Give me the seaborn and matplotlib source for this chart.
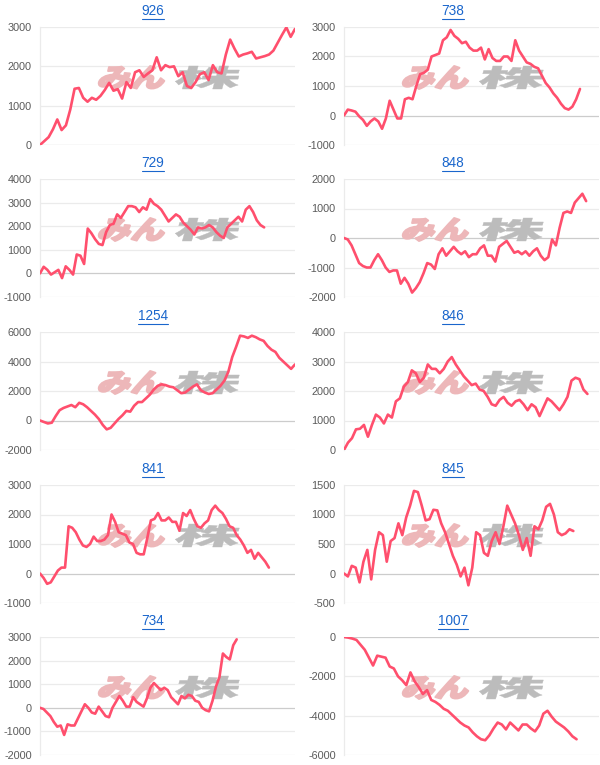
import numpy as np
import matplotlib
matplotlib.use('Agg')
import matplotlib.pyplot as plt
import seaborn as sns
from matplotlib.textpath import TextPath
from matplotlib.patches import PathPatch
from matplotlib.font_manager import FontProperties
from matplotlib.transforms import Affine2D
from matplotlib.lines import Line2D

# chart titles (stock codes)
labels = ['926', '738', '729', '848', '1254', '846', '841', '845', '734', '1007']

s926 = [0, 100, 200, 400, 650, 380, 500, 900, 1430, 1450, 1200, 1100, 1200, 1150, 1250,
        1400, 1580, 1380, 1420, 1180, 1600, 1450, 1850, 1900, 1730, 1820, 1900, 2230, 1900,
        2030, 1980, 2000, 1750, 1850, 1500, 1450, 1600, 1800, 1850, 1650, 2030, 1850, 1820,
        2300, 2680, 2450, 2250, 2300, 2330, 2370, 2200, 2230, 2260, 2300, 2400, 2600, 2800,
        2990, 2750, 2950]
s738 = [0, 200, 170, 130, -30, -150, -350, -200, -100, -200, -450, -100, 500, 200, -100,
        -100, 550, 600, 550, 1000, 1400, 1450, 1550, 2000, 2050, 2100, 2550, 2650, 2900,
        2700, 2600, 2450, 2500, 2300, 2200, 2200, 2300, 1900, 2250, 1950, 1850, 1850, 2000,
        2000, 1850, 2550, 2200, 2000, 1800, 1750, 1650, 1600, 1350, 1100, 950, 750, 600,
        400, 250, 200, 300, 550, 900]
s729 = [0, 280, 150, -50, 50, 150, -200, 300, 150, -50, 800, 750, 400, 1900, 1700, 1450,
        1250, 1200, 1750, 2050, 2100, 2500, 2350, 2600, 2850, 2850, 2800, 2600, 2800, 2700,
        3150, 2950, 2850, 2700, 2450, 2200, 2350, 2500, 2400, 2150, 2000, 1850, 1650, 1950,
        1900, 1950, 2050, 1950, 1750, 1600, 1500, 1950, 2100, 2250, 2400, 2200, 2700, 2850,
        2600, 2250, 2050, 1950]
s848 = [0, -50, -250, -550, -850, -950, -1000, -1000, -750, -550, -750, -1000, -1150, -1100,
        -1100, -1550, -1350, -1550, -1850, -1700, -1500, -1200, -850, -900, -1050, -550, -350,
        -600, -450, -300, -450, -550, -450, -650, -550, -550, -350, -250, -600, -600, -800,
        -300, -200, -100, -300, -500, -450, -550, -450, -600, -450, -350, -600, -750, -650,
        -50, -250, 350, 850, 900, 850, 1200, 1350, 1500, 1250]
s1254 = [0, -100, -200, -150, 300, 700, 850, 950, 1050, 900, 1200, 1100, 900, 650, 400, 100,
         -300, -600, -500, -200, 100, 350, 650, 600, 1000, 1250, 1250, 1500, 1750, 2100, 2350,
         2450, 2400, 2300, 2250, 2050, 1850, 1900, 2100, 2300, 2450, 2050, 1900, 1800, 1850,
         2100, 2350, 2700, 3300, 4300, 5000, 5750, 5700, 5600, 5750, 5650, 5500, 5400, 5050,
         4800, 4650, 4250, 4000, 3750, 3500, 3800]
s846 = [0, 250, 400, 700, 720, 850, 450, 850, 1200, 1100, 900, 1200, 1100, 1650, 1750, 2150,
        2300, 2700, 2600, 2300, 2450, 2900, 2750, 2750, 2600, 2750, 3000, 3150, 2900, 2700,
        2500, 2350, 2200, 2250, 2050, 2000, 1800, 1550, 1500, 1700, 1800, 1600, 1500, 1650,
        1700, 1550, 1350, 1550, 1450, 1150, 1450, 1750, 1650, 1500, 1350, 1550, 1800, 2350,
        2450, 2400, 2050, 1900]
s841 = [0, -150, -350, -300, -100, 100, 200, 200, 1600, 1550, 1400, 1150, 950, 900, 1000,
        1250, 1100, 1100, 1150, 1300, 2000, 1750, 1400, 1350, 1300, 1050, 1000, 700, 650, 650,
        1200, 1800, 1850, 2050, 1800, 1800, 1900, 1750, 1750, 1450, 2050, 1950, 2150, 1850,
        1600, 1550, 1700, 1800, 2150, 2300, 2150, 2050, 1850, 1600, 1550, 1300, 1150, 950,
        700, 800, 500, 700, 550, 400, 200]
s845 = [0, -50, 130, 100, -150, 200, 400, -100, 400, 700, 650, 200, 550, 600, 850, 650, 950,
        1150, 1400, 1380, 1150, 900, 920, 1080, 1070, 850, 700, 500, 300, 150, -50, 100, -200,
        100, 700, 650, 350, 300, 550, 700, 500, 800, 1150, 1000, 850, 650, 400, 600, 300, 800,
        750, 900, 1130, 1180, 1000, 700, 650, 680, 750, 720]
s734 = [0, -50, -200, -350, -600, -800, -750, -1150, -700, -750, -750, -450, -150, 150, 0,
        -200, -250, 50, -150, -350, -400, 0, 250, 500, 300, 50, 50, 450, 250, 150, 50, 400,
        850, 1050, 900, 750, 850, 750, 450, 300, 150, 500, 400, 550, 500, 300, 250, 0, -100,
        -150, 300, 900, 1300, 2300, 2150, 2050, 2650, 2900]
s1007 = [0, -30, -80, -150, -400, -650, -1050, -1450, -950, -1000, -1050, -1500, -1600, -2000,
         -2200, -2450, -1800, -2250, -2550, -2900, -2700, -3200, -3300, -3450, -3650, -3750,
         -3950, -4150, -4350, -4500, -4600, -4850, -5050, -5200, -5250, -5000, -4650, -4350,
         -4450, -4700, -4350, -4550, -4750, -4450, -4450, -4650, -4800, -4500, -3900, -3750,
         -4050, -4300, -4450, -4600, -4800, -5050, -5200]

series = [s926, s738, s729, s848, s1254, s846, s841, s845, s734, s1007]
# length of the full period on the x axis (in points) for each chart
x_end = [59, 67, 69.4, 67.4, 65, 63.9, 71.3, 65.6, 73.9, 61.4]
# y ticks (min, max, step)
y_ticks = [(0, 3000, 1000), (-1000, 3000, 1000), (-1000, 4000, 1000), (-2000, 2000, 1000),
           (-2000, 6000, 2000), (0, 4000, 1000), (-1000, 3000, 1000), (-500, 1500, 500),
           (-2000, 3000, 1000), (-6000, 0, 2000)]

sns.set_theme(style='white')
plt.rcParams['font.family'] = ['Liberation Sans', 'Noto Sans CJK JP', 'DejaVu Sans']

W, H = 600, 765
fig = plt.figure(figsize=(W / 100, H / 100), dpi=100)

row_tops = [0, 152, 305, 458, 610]
col_lefts = [40, 344]
plot_w = 255
wm_font = FontProperties(family='Noto Sans CJK JP', weight='heavy')


def watermark(ax, text, x0, y_top, w, h, color, stroke):
    tp = TextPath((0, 0), text, size=1, prop=wm_font)
    bb = tp.get_extents()
    trans = (Affine2D().translate(-bb.x0, -bb.y0)
             .scale(w / bb.width, h / bb.height)
             .skew_deg(16, 0)
             .translate(x0, H - y_top - h)
             .scale(1 / 100.0) + fig.dpi_scale_trans)
    ax.add_artist(PathPatch(tp, transform=trans, facecolor=color, edgecolor=color,
                            linewidth=stroke, joinstyle='round', zorder=1.5, clip_on=False))


titles = []
for i, (name, vals) in enumerate(zip(labels, series)):
    r, c = divmod(i, 2)
    top = row_tops[r]
    left = col_lefts[c]
    ax = fig.add_axes([left / W, 1 - (top + 145) / H, plot_w / W, 118 / H])
    x = np.arange(len(vals))
    sns.lineplot(x=x, y=vals, ax=ax, color='#ff4f6d', linewidth=1.9, zorder=3)
    lo, hi, step = y_ticks[i]
    ticks = np.arange(lo, hi + step, step)
    ax.set_ylim(lo, hi)
    ax.set_xlim(0, x_end[i])
    ax.set_yticks(ticks)
    ax.set_yticklabels([str(t) for t in ticks])
    ax.set_xticks([])
    for t in ticks:
        ax.axhline(t, color='#cccccc' if t == 0 else '#ebebeb', lw=0.9, zorder=1)
    for s in ['top', 'right', 'bottom']:
        ax.spines[s].set_visible(False)
    ax.spines['left'].set_color('#ebebeb')
    ax.spines['left'].set_linewidth(0.9)
    ax.tick_params(axis='y', length=0, pad=6, labelsize=7.8, labelcolor='#5a5a5a')
    ax.set_xlabel('')
    ax.set_ylabel('')

    # watermark logo
    watermark(ax, 'みん', left + 57, top + 66, 65, 23, '#edb7b9', 1.4)
    watermark(ax, '株', left + 133, top + 66, 64, 23, '#bcbcbc', 0.3)

    t = fig.text((c * 300 + 153) / W, 1 - (top + 11) / H, name, ha='center', va='center',
                 fontsize=9.8, color='#1a66cc')
    titles.append(t)

# underline the titles like links
fig.canvas.draw()
for t in titles:
    bb = t.get_window_extent().transformed(fig.transFigure.inverted())
    yy = bb.y0 - 0.5 / H
    fig.add_artist(Line2D([bb.x0, bb.x1], [yy, yy], color='#1a66cc', lw=0.8))

fig.savefig('out.png', dpi=100)
